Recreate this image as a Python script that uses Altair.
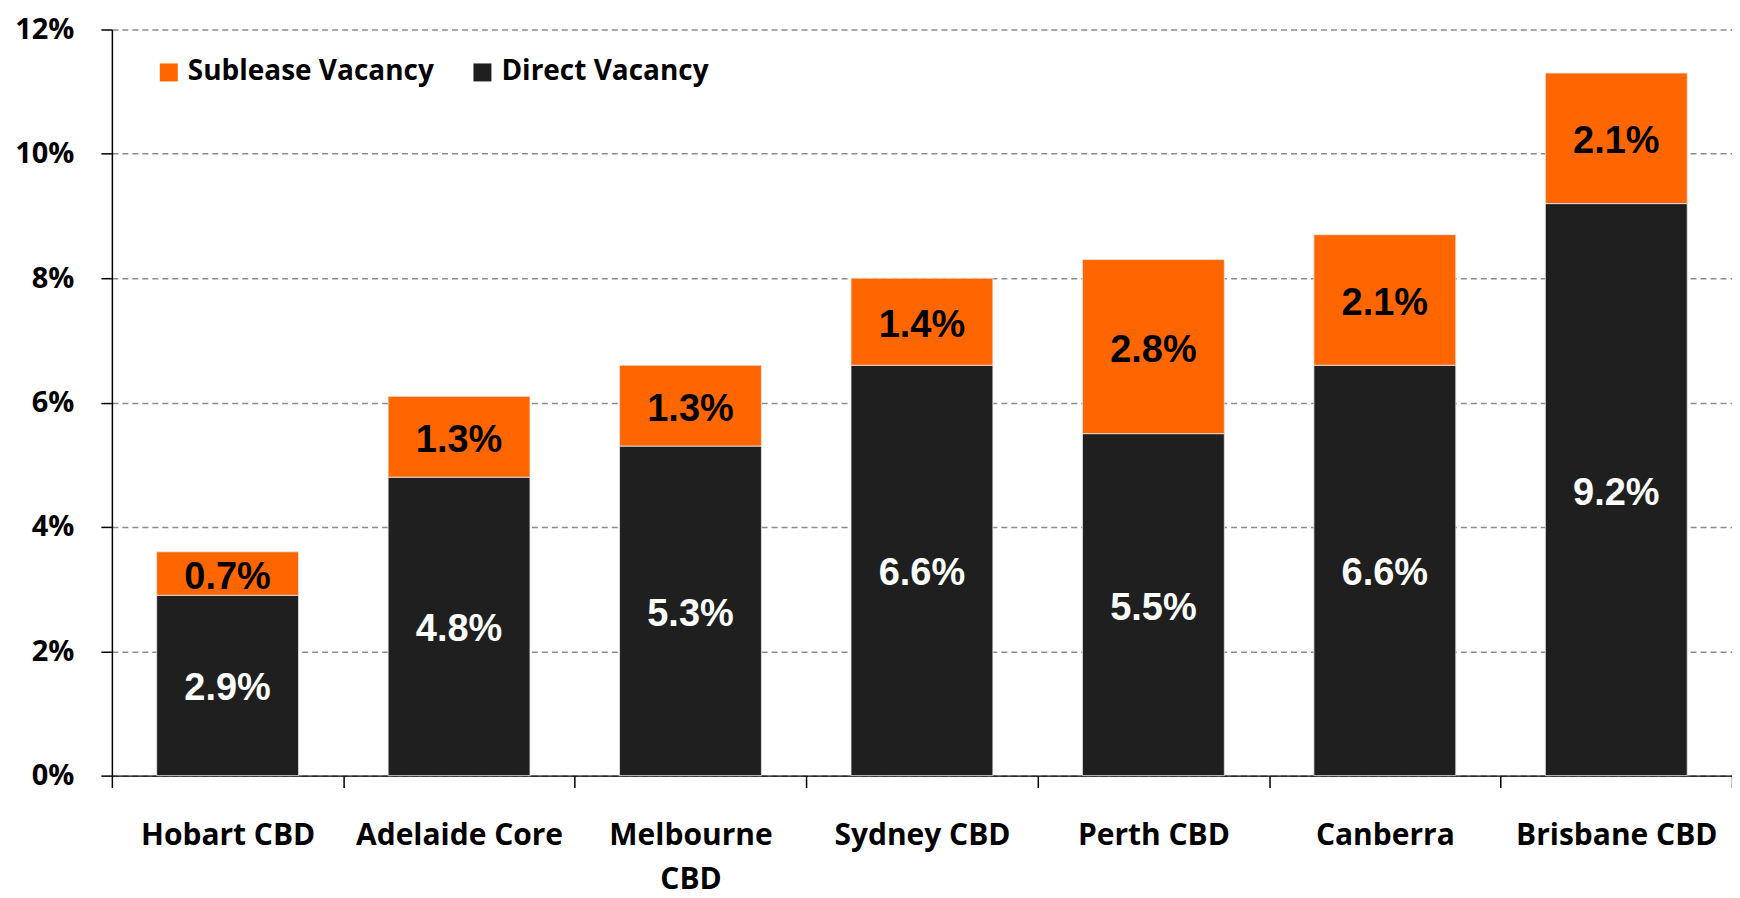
import altair as alt
import pandas as pd

markets = ["Hobart CBD", "Adelaide Core", "Melbourne CBD", "Sydney CBD",
           "Perth CBD", "Canberra", "Brisbane CBD"]
direct = [2.9, 4.8, 5.3, 6.6, 5.5, 6.6, 9.2]
sublease = [0.7, 1.3, 1.3, 1.4, 2.8, 2.1, 2.1]
series_names = ["Sublease Vacancy", "Direct Vacancy"]
series_colors = ["#FF6600", "#1F1F1F"]
y_ticks = [0, 2, 4, 6, 8, 10, 12]

rows = []
for m, d, s in zip(markets, direct, sublease):
    rows.append({"market": m, "series": "Direct Vacancy", "value": d, "order": 0})
    rows.append({"market": m, "series": "Sublease Vacancy", "value": s, "order": 1})
df = pd.DataFrame(rows)

W, H = 1622, 747
CAT_FONT = "Open Sans, sans-serif"

base = alt.Chart(df).transform_stack(
    stack="value", groupby=["market"], as_=["v0", "v1"],
    sort=[alt.SortField("order")]
).transform_calculate(
    mid="(datum.v0 + datum.v1) / 2",
    label="format(datum.value, '.1f') + '%'"
)

xenc = alt.X(
    "market:N", sort=markets, title=None,
    scale=alt.Scale(paddingInner=0, paddingOuter=0),
    axis=alt.Axis(
        labelAngle=0, labelFont=CAT_FONT, labelFontSize=30, labelFontWeight="bold",
        labelColor="black", labelPadding=33, labelLineHeight=44, labelLimit=400,
        labelExpr="datum.label == 'Melbourne CBD' ? ['Melbourne', 'CBD'] : datum.label",
        tickSize=12, tickColor="black", tickWidth=1.5, tickBand="extent",
        domainColor="black", domainWidth=1.5, grid=False,
    ),
)

bars = base.mark_bar(
    width=alt.RelativeBandSize(0.613), stroke="#e8e8e8", strokeWidth=0.8
).encode(
    x=xenc,
    y=alt.Y(
        "v0:Q", title=None,
        scale=alt.Scale(domain=[0, 12], nice=False),
        axis=alt.Axis(
            values=y_ticks, labelExpr="datum.value + '%'",
            labelFont=CAT_FONT, labelFontSize=29, labelFontWeight="bold",
            labelColor="black", labelPadding=27,
            tickSize=11, tickColor="black", tickWidth=1.5,
            domainColor="black", domainWidth=1.5,
            grid=True, gridDash=[6, 4], gridColor="#8c8c8c", gridWidth=1.5,
        ),
    ),
    y2="v1:Q",
    color=alt.Color(
        "series:N",
        scale=alt.Scale(domain=series_names, range=series_colors),
        legend=alt.Legend(
            title=None, orient="none", legendX=43, legendY=29,
            direction="horizontal", symbolType="square", symbolSize=324,
            symbolStrokeWidth=0, labelFont=CAT_FONT, labelFontSize=28,
            labelFontWeight="bold", labelColor="black", labelOffset=5,
            columnPadding=34, padding=0, labelLimit=400,
        ),
    ),
)

labels = base.mark_text(
    font="Liberation Sans, Arial, sans-serif", fontSize=38, fontWeight="bold",
    baseline="middle", align="center", dy=4,
).encode(
    x=alt.X("market:N", sort=markets),
    y=alt.Y("mid:Q"),
    text="label:N",
    color=alt.condition(alt.datum.series == "Direct Vacancy",
                        alt.value("white"), alt.value("black")),
)

chart = alt.layer(bars, labels).properties(
    width=W, height=H,
    padding={"left": 104, "top": 21, "right": 0, "bottom": 122},
    autosize=alt.AutoSizeParams(type="none"),
).configure_view(stroke=None)

chart.save("out.html", embed_options={"renderer": "svg", "actions": False})
